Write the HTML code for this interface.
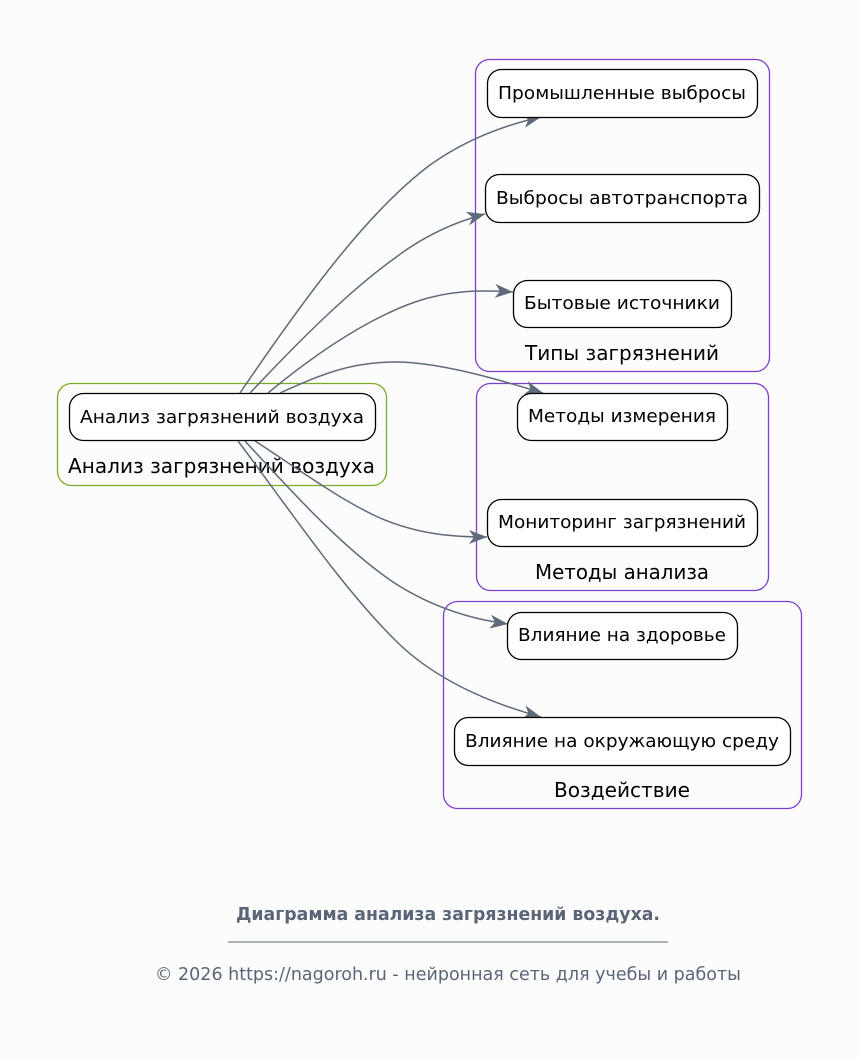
<!DOCTYPE html>
<html><head><meta charset="utf-8"><style>
html,body{margin:0;padding:0;background:#fcfcfc;}
svg{display:block;font-family:"DejaVu Sans","Liberation Sans",sans-serif;}
</style></head><body>
<svg width="860" height="1059" viewBox="0 0 860 1059" xmlns="http://www.w3.org/2000/svg">
<defs>
<marker id="a" markerWidth="20" markerHeight="14" refX="18" refY="7" orient="auto" markerUnits="userSpaceOnUse">
<path d="M0,0 L18,7 L0,14 L5,7 Z" fill="#5f6b7a"/>
</marker>
</defs>
<rect width="860" height="1059" fill="#fcfcfc"/>
<rect x="57.5" y="383.5" width="329" height="102" rx="14" fill="none" stroke="#7aab2a" stroke-width="1.3"/>
<rect x="475.5" y="59.5" width="294" height="312" rx="14" fill="none" stroke="#7d3fd0" stroke-width="1.3"/>
<rect x="476.5" y="383.5" width="292" height="207" rx="14" fill="none" stroke="#7d3fd0" stroke-width="1.3"/>
<rect x="443.5" y="601.5" width="358" height="207" rx="14" fill="none" stroke="#7d3fd0" stroke-width="1.3"/>
<g font-size="20" fill="#000" text-anchor="middle">
<text x="221.5" y="473" textLength="307" lengthAdjust="spacingAndGlyphs">Анализ загрязнений воздуха</text>
<text x="622" y="360" textLength="194" lengthAdjust="spacingAndGlyphs">Типы загрязнений</text>
<text x="622" y="579" textLength="174" lengthAdjust="spacingAndGlyphs">Методы анализа</text>
<text x="622" y="797" textLength="136" lengthAdjust="spacingAndGlyphs">Воздействие</text>
</g>
<g fill="none" stroke="#5f6b7a" stroke-width="1.5" marker-end="url(#a)">
<path d="M240,393 C310,290 370,210 430,165 C465,140 505,125 541,117"/>
<path d="M250,393 C300,340 350,290 395,258 C425,235 455,222 485,214"/>
<path d="M268,393 C320,350 370,318 415,302 C450,290 480,290 513,292"/>
<path d="M280,393 C320,375 350,362 395,362 C440,362 500,380 543,393"/>
<path d="M255,441 C300,470 340,500 380,518 C420,535 455,537 487,537"/>
<path d="M245,441 C290,490 340,545 390,580 C430,607 470,619 508,624"/>
<path d="M238,441 C290,510 340,585 395,640 C435,680 490,703 541,717"/>
</g>
<g fill="#fff" stroke="#000" stroke-width="1.3">
<rect x="69.5" y="393.5" width="306" height="47" rx="14"/>
<rect x="487.5" y="69.5" width="270" height="48" rx="14"/>
<rect x="485.5" y="174.5" width="274" height="48" rx="14"/>
<rect x="513.5" y="280.5" width="218" height="47" rx="14"/>
<rect x="517.5" y="393.5" width="210" height="47" rx="14"/>
<rect x="487.5" y="499.5" width="270" height="47" rx="14"/>
<rect x="507.5" y="612.5" width="230" height="47" rx="14"/>
<rect x="454.5" y="717.5" width="336" height="48" rx="14"/>
</g>
<g font-size="18" fill="#000" text-anchor="middle">
<text x="222" y="423" textLength="284" lengthAdjust="spacingAndGlyphs">Анализ загрязнений воздуха</text>
<text x="622" y="99" textLength="248" lengthAdjust="spacingAndGlyphs">Промышленные выбросы</text>
<text x="622" y="204" textLength="252" lengthAdjust="spacingAndGlyphs">Выбросы автотранспорта</text>
<text x="622" y="309" textLength="196" lengthAdjust="spacingAndGlyphs">Бытовые источники</text>
<text x="622" y="422" textLength="188" lengthAdjust="spacingAndGlyphs">Методы измерения</text>
<text x="622" y="528" textLength="248" lengthAdjust="spacingAndGlyphs">Мониторинг загрязнений</text>
<text x="622" y="641" textLength="208" lengthAdjust="spacingAndGlyphs">Влияние на здоровье</text>
<text x="622" y="747" textLength="314" lengthAdjust="spacingAndGlyphs">Влияние на окружающую среду</text>
</g>
<text x="448" y="920" font-size="17.4" font-weight="bold" fill="#5a6677" text-anchor="middle" textLength="424" lengthAdjust="spacingAndGlyphs">Диаграмма анализа загрязнений воздуха.</text>
<line x1="228" y1="942" x2="668" y2="942" stroke="#5a6677" stroke-width="1"/>
<text x="448" y="980" font-size="17.5" fill="#5a6677" text-anchor="middle" textLength="586" lengthAdjust="spacingAndGlyphs">© 2026 https://nagoroh.ru - нейронная сеть для учебы и работы</text>
</svg>
</body></html>
